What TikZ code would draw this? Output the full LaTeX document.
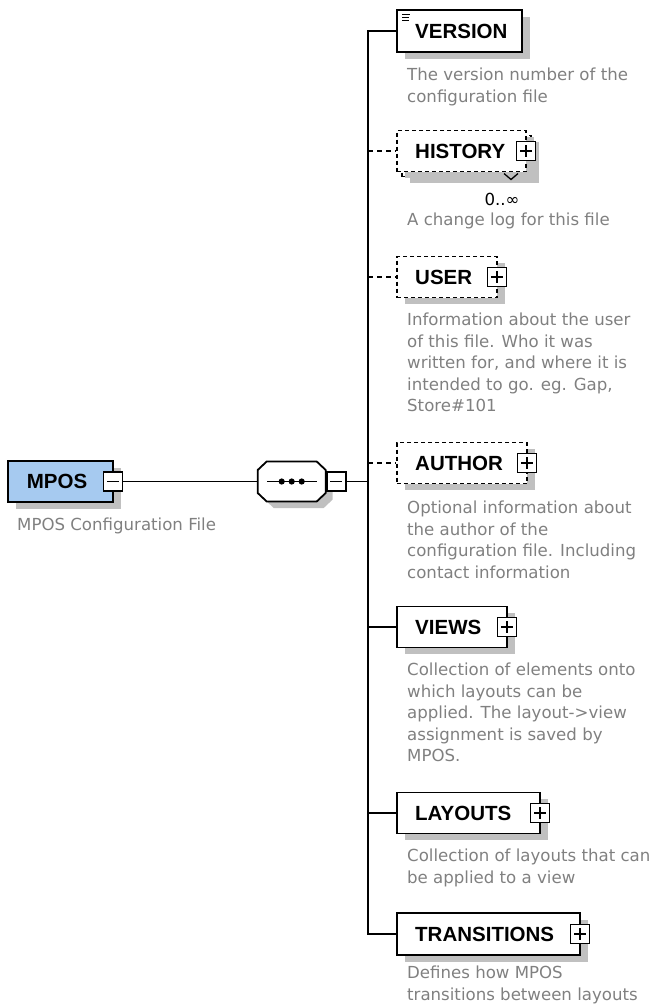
\documentclass[tikz,border=0pt]{standalone}
\usepackage{fontspec}
\setmainfont{DejaVu Sans}
\newfontfamily\lblfont{Liberation Sans}
\usetikzlibrary{shadows}
\definecolor{descgray}{RGB}{128,128,128}
\definecolor{shadowgray}{RGB}{192,192,192}
\definecolor{mposblue}{RGB}{166,202,240}
\begin{document}
\begin{tikzpicture}[x=1pt,y=-1pt,
  conn/.style={draw=black, line width=1.7pt},
  dconn/.style={conn, dash pattern=on 5pt off 4pt},
  elem/.style={draw=black, fill=white, line width=1.8pt, minimum height=41pt, inner sep=0pt,
    drop shadow={shadow xshift=8pt, shadow yshift=-6.5pt, fill=shadowgray, opacity=1}},
  optelem/.style={elem, dash pattern=on 4pt off 3pt},
  lbl/.style={font=\lblfont\bfseries\fontsize{20.5}{24}\selectfont, anchor=west, inner sep=0pt},
  desc/.style={font=\fontsize{16.6}{21.5}\selectfont, text=descgray, anchor=north west, inner sep=0pt, align=left},
  btn/.style={draw=black, fill=white, line width=1.6pt, minimum size=19pt, inner sep=0pt},
  plusbtn/.style={btn, path picture={\draw[line width=1.6pt]
      ([xshift=3.5pt]path picture bounding box.west) -- ([xshift=-3.5pt]path picture bounding box.east)
      ([yshift=-3.5pt]path picture bounding box.north) -- ([yshift=3.5pt]path picture bounding box.south);}},
  minusbtn/.style={btn, path picture={\draw[line width=1.6pt]
      ([xshift=3.5pt]path picture bounding box.west) -- ([xshift=-3.5pt]path picture bounding box.east);}},
]
\useasboundingbox (0,0) rectangle (649,1007);

% ---------- root element ----------
\node[elem, fill=mposblue, minimum width=105pt] (mpos) at (60.5,481.5) {};
\node[lbl] (mpos-l) at (26.7,481.5) {MPOS};
\node[minusbtn] (mposm) at (113,481.5) {};
\node[desc] (mpos-d) at (17,518) {MPOS Configuration File};

% ---------- sequence compositor ----------
\begin{scope}[shift={(7,6.5)}]
  \fill[shadowgray] (266.7,461.5) -- (316.7,461.5) -- (325.7,470) -- (325.7,493) -- (316.7,501.5) -- (266.7,501.5) -- (257.7,493) -- (257.7,470) -- cycle;
\end{scope}
\draw[line width=1.8pt, fill=white] (266.7,461.5) -- (316.7,461.5) -- (325.7,470) -- (325.7,493) -- (316.7,501.5) -- (266.7,501.5) -- (257.7,493) -- (257.7,470) -- cycle;
\node[minimum width=68pt, minimum height=40pt, inner sep=0pt] (seq) at (291.7,481.5) {};
\draw[line width=1.7pt] (267,481.5) -- (317,481.5);
\fill (281.7,481.5) circle (3.1);
\fill (291.7,481.5) circle (3.1);
\fill (301.7,481.5) circle (3.1);
\node[minusbtn] (seqm) at (336.2,481.5) {};
\coordinate (trunk) at (368,481.5);

% ---------- child elements ----------
\node[elem, minimum width=125pt, minimum height=42pt] (version) at (459.5,31) {};
\node[lbl] (version-l) at (415,31) {VERSION};
\draw[line width=1.2pt] (402,14.5) -- (410,14.5) (402,17.5) -- (409,17.5) (402,20.5) -- (409,20.5);
\node[desc] (version-d) at (407,68) {The version number of the\\configuration file};

\node[optelem, minimum width=129pt] (history-b) at (466.5,156) {};
\node[optelem, minimum width=129pt, drop shadow={opacity=0}] (history) at (461.5,151) {};
\node[lbl] (history-l) at (415,151) {HISTORY};
\node[plusbtn] (historyp) at (526,151) {};
\draw[line width=1.3pt] (504,173.5) -- (511,179.5) -- (518,173.5);
\node[font=\fontsize{16.6}{20}\selectfont, inner sep=0pt] (history-m) at (502,199) {0..∞};
\node[desc] (history-d) at (407,213) {A change log for this file};

\node[optelem, minimum width=100pt] (user) at (447,277) {};
\node[lbl] (user-l) at (415,277) {USER};
\node[plusbtn] (userp) at (497,277) {};
\node[desc] (user-d) at (407,313) {Information about the user\\of this file. Who it was\\written for, and where it is\\intended to go. eg. Gap,\\Store\#101};

\node[optelem, minimum width=130pt] (author) at (462,463) {};
\node[lbl] (author-l) at (415,463) {AUTHOR};
\node[plusbtn] (authorp) at (527,463) {};
\node[desc] (author-d) at (407,501) {Optional information about\\the author of the\\configuration file. Including\\contact information};

\node[elem, minimum width=110pt] (views) at (452,627) {};
\node[lbl] (views-l) at (415,627) {VIEWS};
\node[plusbtn] (viewsp) at (507,627) {};
\node[desc] (views-d) at (407,663) {Collection of elements onto\\which layouts can be\\applied. The layout->view\\assignment is saved by\\MPOS.};

\node[elem, minimum width=143pt] (layouts) at (468.5,813) {};
\node[lbl] (layouts-l) at (415,813) {LAYOUTS};
\node[plusbtn] (layoutsp) at (540,813) {};
\node[desc] (layouts-d) at (407,849) {Collection of layouts that can\\be applied to a view};

\node[elem, minimum width=183pt, minimum height=42pt] (transitions) at (488.5,934) {};
\node[lbl] (transitions-l) at (415,934) {TRANSITIONS};
\node[plusbtn] (transitionsp) at (580,934) {};
\node[desc] (transitions-d) at (407,966) {Defines how MPOS\\transitions between layouts};

% ---------- connectors ----------
\draw[conn] (mposm.east) -- (seq.west);
\draw[conn] (seqm.east) -- (trunk);
\draw[conn] (version.west) -| (trunk) |- (transitions.west);
\draw[conn] (trunk |- views.west) -- (views.west);
\draw[conn] (trunk |- layouts.west) -- (layouts.west);
\draw[dconn] (trunk |- history.west) -- (history.west);
\draw[dconn] (trunk |- user.west) -- (user.west);
\draw[dconn] (trunk |- author.west) -- (author.west);
\end{tikzpicture}
\end{document}
